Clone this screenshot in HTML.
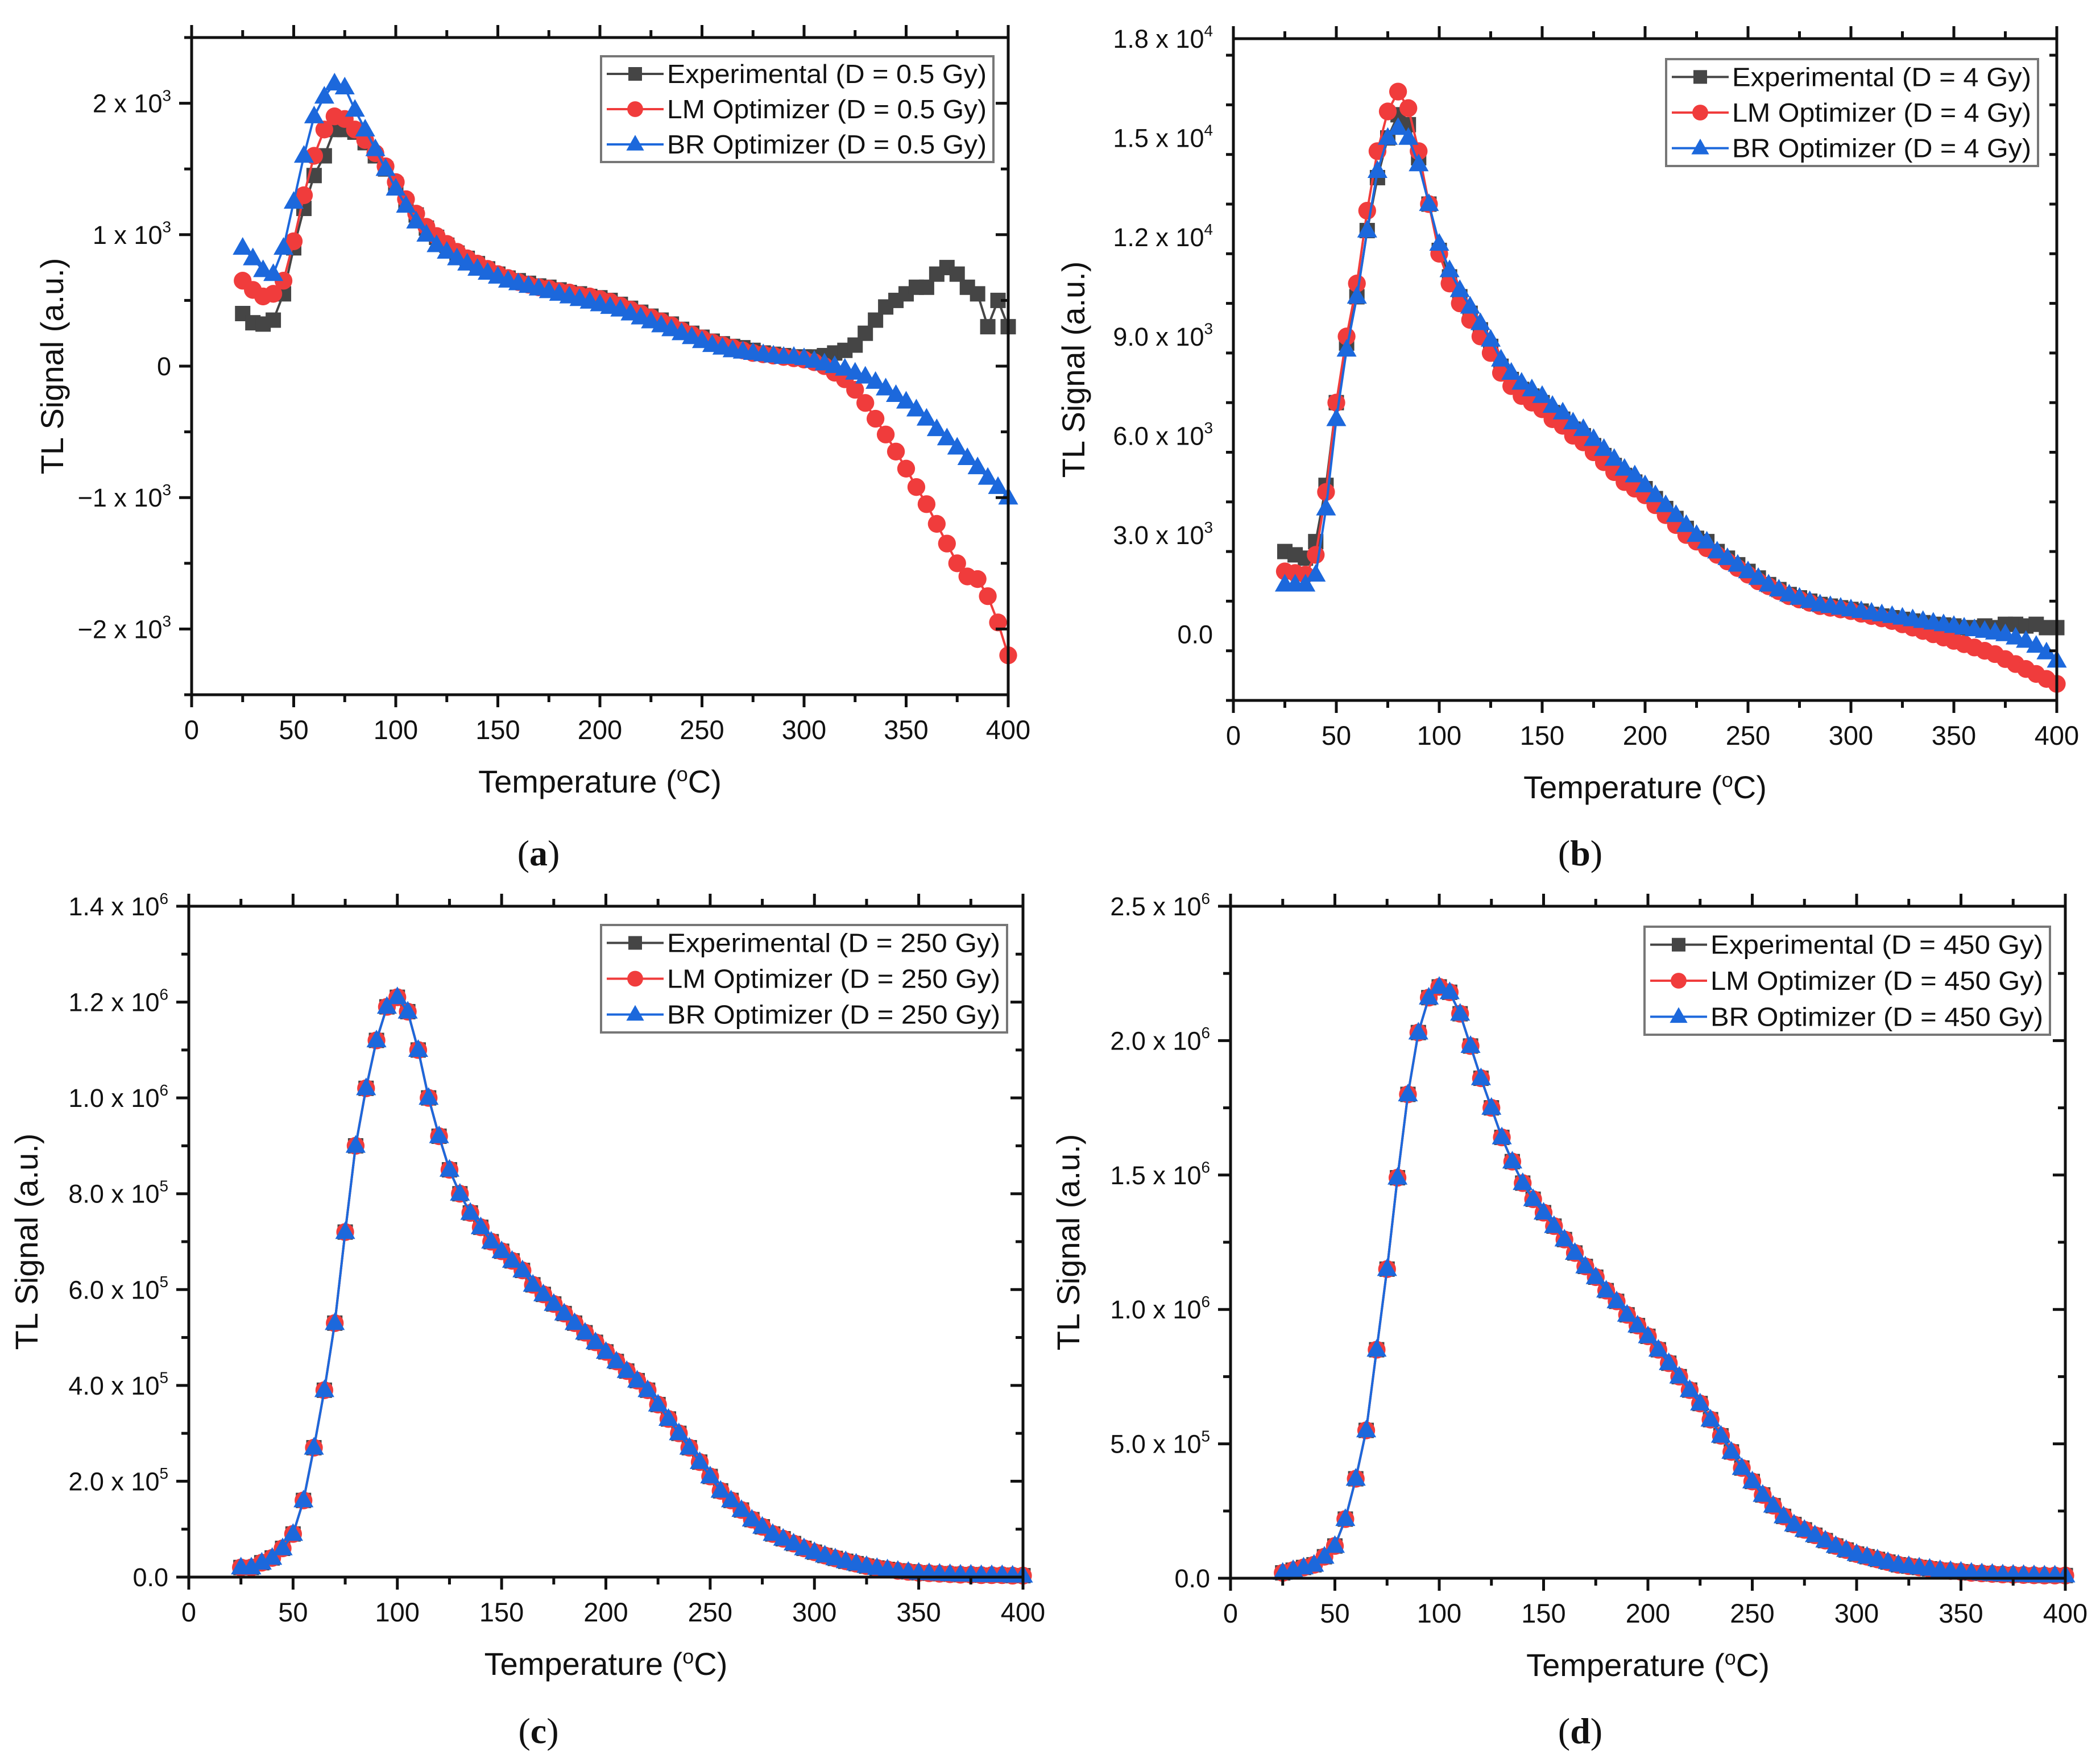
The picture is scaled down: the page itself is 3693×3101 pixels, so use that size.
<!DOCTYPE html>
<html><head><meta charset="utf-8"><style>
body{margin:0;background:#fff}
svg{display:block;font-family:"Liberation Sans",sans-serif}
</style></head><body>
<svg id="fig" width="3693" height="3101" viewBox="0 0 3693 3101" xmlns="http://www.w3.org/2000/svg"></svg>
<script>
const temps=[25,30,35,40,45,50,55,60,65,70,75,80,85,90,95,100,105,110,115,120,125,130,135,140,145,150,155,160,165,170,175,180,185,190,195,200,205,210,215,220,225,230,235,240,245,250,255,260,265,270,275,280,285,290,295,300,305,310,315,320,325,330,335,340,345,350,355,360,365,370,375,380,385,390,395,400];
const xTicks=[0,50,100,150,200,250,300,350,400];
// Panel a (x1e3)
const expA=[0.4,0.33,0.32,0.35,0.55,0.9,1.2,1.45,1.6,1.8,1.8,1.78,1.7,1.6,1.5,1.38,1.25,1.15,1.05,0.98,0.92,0.86,0.82,0.78,0.74,0.7,0.67,0.65,0.63,0.61,0.6,0.58,0.56,0.55,0.53,0.52,0.5,0.47,0.44,0.41,0.38,0.35,0.32,0.28,0.25,0.22,0.19,0.17,0.15,0.14,0.12,0.1,0.09,0.08,0.07,0.07,0.07,0.08,0.1,0.12,0.16,0.25,0.35,0.45,0.5,0.55,0.6,0.6,0.7,0.75,0.7,0.6,0.55,0.3,0.5,0.3];
const lmA=[0.65,0.58,0.53,0.55,0.65,0.95,1.3,1.6,1.8,1.9,1.88,1.8,1.72,1.62,1.52,1.4,1.27,1.16,1.06,0.99,0.93,0.87,0.82,0.78,0.74,0.7,0.67,0.64,0.62,0.6,0.59,0.57,0.56,0.54,0.53,0.51,0.49,0.46,0.43,0.4,0.37,0.34,0.31,0.27,0.24,0.21,0.18,0.16,0.14,0.12,0.1,0.09,0.08,0.07,0.06,0.05,0.03,0,-0.05,-0.1,-0.18,-0.28,-0.4,-0.52,-0.65,-0.78,-0.92,-1.05,-1.2,-1.35,-1.5,-1.6,-1.62,-1.75,-1.95,-2.2];
const brA=[0.9,0.82,0.73,0.7,0.9,1.25,1.6,1.9,2.05,2.15,2.12,1.95,1.8,1.65,1.5,1.35,1.22,1.1,1.0,0.92,0.87,0.82,0.78,0.74,0.71,0.68,0.65,0.63,0.61,0.59,0.57,0.55,0.53,0.51,0.49,0.47,0.45,0.43,0.4,0.37,0.34,0.31,0.28,0.25,0.22,0.19,0.16,0.14,0.12,0.11,0.1,0.09,0.08,0.07,0.07,0.06,0.04,0.02,0,-0.02,-0.05,-0.08,-0.12,-0.17,-0.22,-0.27,-0.33,-0.4,-0.48,-0.55,-0.62,-0.7,-0.77,-0.85,-0.92,-1.0];
const yTicksA=[-2,-1,0,1,2];
const yLabelsA=["\u22122 x 10|3","\u22121 x 10|3","0","1 x 10|3","2 x 10|3"];
// Panel b (x1e3)
const expB=[2.5,2.4,2.3,2.8,4.5,7.0,8.8,10.2,12.2,13.8,15.0,15.7,15.4,14.4,13.0,11.6,10.8,10.2,9.7,9.2,8.7,8.1,7.7,7.4,7.2,7.0,6.7,6.5,6.2,6.0,5.7,5.4,5.1,4.8,4.6,4.4,4.1,3.8,3.5,3.2,2.9,2.8,2.5,2.3,2.1,1.9,1.7,1.5,1.35,1.2,1.1,1.0,0.9,0.85,0.8,0.75,0.7,0.6,0.55,0.5,0.45,0.4,0.35,0.3,0.28,0.25,0.2,0.2,0.25,0.2,0.3,0.3,0.25,0.3,0.2,0.2];
const lmB=[1.9,1.85,1.8,2.4,4.3,7.0,9.0,10.6,12.8,14.6,15.8,16.4,15.9,14.6,13.0,11.5,10.6,10.0,9.5,9.0,8.5,7.9,7.5,7.2,7.0,6.8,6.5,6.3,6.0,5.8,5.5,5.2,4.9,4.6,4.4,4.2,3.9,3.6,3.3,3.0,2.8,2.6,2.4,2.2,2.0,1.8,1.6,1.45,1.3,1.15,1.05,0.95,0.85,0.8,0.75,0.7,0.62,0.55,0.48,0.4,0.3,0.2,0.1,0,-0.1,-0.2,-0.3,-0.4,-0.5,-0.6,-0.75,-0.9,-1.05,-1.2,-1.35,-1.5];
const brB=[1.5,1.5,1.5,1.8,3.8,6.5,8.6,10.2,12.2,14.0,15.0,15.3,15.0,14.2,13.0,11.8,11.0,10.4,9.9,9.4,8.9,8.3,7.9,7.6,7.4,7.2,6.9,6.7,6.4,6.2,5.9,5.6,5.3,5.0,4.8,4.5,4.2,3.9,3.6,3.3,3.0,2.8,2.5,2.3,2.1,1.9,1.7,1.5,1.35,1.2,1.1,1.0,0.9,0.85,0.8,0.75,0.7,0.65,0.6,0.55,0.5,0.45,0.4,0.35,0.3,0.25,0.2,0.15,0.1,0.05,0,-0.1,-0.2,-0.35,-0.55,-0.8];
const yTicksB=[0,3,6,9,12,15,18];
const yLabelsB=["0.0","3.0 x 10|3","6.0 x 10|3","9.0 x 10|3","1.2 x 10|4","1.5 x 10|4","1.8 x 10|4"];
// Panel c (x1e6)
const expC=[0.02,0.02,0.03,0.04,0.06,0.09,0.16,0.27,0.39,0.53,0.72,0.9,1.02,1.12,1.19,1.21,1.18,1.1,1.0,0.92,0.85,0.8,0.76,0.73,0.7,0.68,0.66,0.64,0.61,0.59,0.57,0.55,0.53,0.51,0.49,0.47,0.45,0.43,0.41,0.39,0.36,0.33,0.3,0.27,0.24,0.21,0.18,0.16,0.14,0.12,0.105,0.09,0.08,0.07,0.06,0.052,0.045,0.039,0.033,0.028,0.023,0.019,0.016,0.013,0.011,0.009,0.008,0.007,0.006,0.005,0.005,0.004,0.004,0.004,0.003,0.003];
const lmC=[0.02,0.02,0.03,0.04,0.06,0.09,0.16,0.27,0.39,0.53,0.72,0.9,1.02,1.12,1.19,1.21,1.18,1.1,1.0,0.92,0.85,0.8,0.76,0.73,0.7,0.68,0.66,0.64,0.61,0.59,0.57,0.55,0.53,0.51,0.49,0.47,0.45,0.43,0.41,0.39,0.36,0.33,0.3,0.27,0.24,0.21,0.18,0.16,0.14,0.12,0.105,0.09,0.08,0.07,0.06,0.052,0.045,0.039,0.033,0.028,0.023,0.019,0.016,0.013,0.011,0.009,0.008,0.007,0.006,0.005,0.005,0.004,0.004,0.004,0.003,0.003];
const brC=[0.02,0.02,0.03,0.04,0.06,0.09,0.16,0.27,0.39,0.53,0.72,0.9,1.02,1.12,1.19,1.21,1.18,1.1,1.0,0.92,0.85,0.8,0.76,0.73,0.7,0.68,0.66,0.64,0.61,0.59,0.57,0.55,0.53,0.51,0.49,0.47,0.45,0.43,0.41,0.39,0.36,0.33,0.3,0.27,0.24,0.21,0.18,0.16,0.14,0.12,0.105,0.09,0.08,0.07,0.06,0.052,0.045,0.039,0.033,0.028,0.023,0.019,0.016,0.013,0.011,0.009,0.008,0.007,0.006,0.005,0.005,0.004,0.004,0.004,0.003,0.003];
const yTicksC=[0,0.2,0.4,0.6,0.8,1.0,1.2,1.4];
const yLabelsC=["0.0","2.0 x 10|5","4.0 x 10|5","6.0 x 10|5","8.0 x 10|5","1.0 x 10|6","1.2 x 10|6","1.4 x 10|6"];
// Panel d (x1e6)
const expD=[0.02,0.03,0.04,0.05,0.08,0.12,0.22,0.37,0.55,0.85,1.15,1.49,1.8,2.03,2.16,2.2,2.18,2.1,1.98,1.86,1.75,1.64,1.55,1.47,1.41,1.36,1.31,1.26,1.21,1.16,1.12,1.07,1.03,0.98,0.94,0.9,0.85,0.8,0.75,0.7,0.65,0.59,0.53,0.47,0.41,0.36,0.31,0.27,0.23,0.2,0.18,0.16,0.14,0.12,0.105,0.09,0.08,0.07,0.06,0.05,0.045,0.04,0.035,0.03,0.027,0.024,0.02,0.018,0.016,0.014,0.013,0.012,0.011,0.01,0.01,0.01];
const lmD=[0.02,0.03,0.04,0.05,0.08,0.12,0.22,0.37,0.55,0.85,1.15,1.49,1.8,2.03,2.16,2.2,2.18,2.1,1.98,1.86,1.75,1.64,1.55,1.47,1.41,1.36,1.31,1.26,1.21,1.16,1.12,1.07,1.03,0.98,0.94,0.9,0.85,0.8,0.75,0.7,0.65,0.59,0.53,0.47,0.41,0.36,0.31,0.27,0.23,0.2,0.18,0.16,0.14,0.12,0.105,0.09,0.08,0.07,0.06,0.05,0.045,0.04,0.035,0.03,0.027,0.024,0.02,0.018,0.016,0.014,0.013,0.012,0.011,0.01,0.01,0.01];
const brD=[0.02,0.03,0.04,0.05,0.08,0.12,0.22,0.37,0.55,0.85,1.15,1.49,1.8,2.03,2.16,2.2,2.18,2.1,1.98,1.86,1.75,1.64,1.55,1.47,1.41,1.36,1.31,1.26,1.21,1.16,1.12,1.07,1.03,0.98,0.94,0.9,0.85,0.8,0.75,0.7,0.65,0.59,0.53,0.47,0.41,0.36,0.31,0.27,0.23,0.2,0.18,0.16,0.14,0.12,0.105,0.09,0.08,0.07,0.06,0.05,0.045,0.04,0.035,0.03,0.027,0.024,0.02,0.018,0.016,0.014,0.013,0.012,0.011,0.01,0.01,0.01];
const yTicksD=[0,0.5,1.0,1.5,2.0,2.5];
const yLabelsD=["0.0","5.0 x 10|5","1.0 x 10|6","1.5 x 10|6","2.0 x 10|6","2.5 x 10|6"];

const NS="http://www.w3.org/2000/svg";
const svg=document.getElementById('fig');
function mk(tag,attrs,parent){const e=document.createElementNS(NS,tag);for(const k in attrs)e.setAttribute(k,attrs[k]);(parent||svg).appendChild(e);return e;}

const panels=[
 {id:'a',L:337,R:1773,T:66,B:1222,ymin:-2.5,ymax:2.5,minor:0.5,yt:yTicksA,yl:yLabelsA,ser:[expA,lmA,brA],dose:'0.5 Gy',leg:[1057,99,1747,285],lab:[947,1522]},
 {id:'b',L:2169,R:3617,T:68,B:1232,ymin:-2,ymax:18,minor:1.5,yt:yTicksB,yl:yLabelsB,ser:[expB,lmB,brB],dose:'4 Gy',leg:[2930,104,3584,292],lab:[2779,1522]},
 {id:'c',L:332,R:1799,T:1594,B:2774,ymin:0,ymax:1.4,minor:0.1,yt:yTicksC,yl:yLabelsC,ser:[expC,lmC,brC],dose:'250 Gy',leg:[1057,1627,1771,1816],lab:[947,3066]},
 {id:'d',L:2164,R:3632,T:1594,B:2776,ymin:0,ymax:2.5,minor:0.25,yt:yTicksD,yl:yLabelsD,ser:[expD,lmD,brD],dose:'450 Gy',leg:[2892,1630,3605,1820],lab:[2779,3066]}
];
const cols=['#454545','#f03c3c','#1c68dc'];
const names=['Experimental','LM Optimizer','BR Optimizer'];
const keys=['experimental','lm-optimizer','br-optimizer'];

function marker(g,type,x,y,s,col){
  let m;
  if(type===0)m=mk('rect',{x:x-s/2,y:y-s/2,width:s,height:s,fill:col},g);
  else if(type===1)m=mk('circle',{cx:x,cy:y,r:s*0.58,fill:col},g);
  else m=mk('polygon',{points:`${x},${y-s*0.7} ${x-s*0.65},${y+s*0.45} ${x+s*0.65},${y+s*0.45}`,fill:col},g);
  return m;
}
function label(g,str,x,y,anchor,fs){
  const parts=str.split('|');
  const t=mk('text',{x:x,y:y,'text-anchor':anchor,'font-size':fs,fill:'#111'},g);
  t.appendChild(document.createTextNode(parts[0]));
  if(parts[1]){const sp=mk('tspan',{dy:-fs*0.45,'font-size':fs*0.62},t);sp.textContent=parts[1];}
  return t;
}

panels.forEach(p=>{
  const g=mk('g',{});
  
  
  const X=v=>p.L+(v-0)/(400)*(p.R-p.L);
  const Y=v=>p.B-(v-p.ymin)/(p.ymax-p.ymin)*(p.B-p.T);
  p.ser.forEach((arr,si)=>{
    const sg=mk('g',{},g);
    
    
    const pts=arr.map((v,i)=>X(temps[i])+','+Y(v)).join(' ');
    const ln=mk('polyline',{points:pts,fill:'none',stroke:cols[si],'stroke-width':4},sg);
    
    
    arr.forEach((v,i)=>{
      const m=marker(sg,si,X(temps[i]),Y(v),27,cols[si]);
      
      
    });
  });
  const fr=mk('rect',{x:p.L,y:p.T,width:p.R-p.L,height:p.B-p.T,fill:'none',stroke:'#111','stroke-width':5},g);
  
  
  for(let v=0;v<=400;v+=25){
    const maj=v%50===0,len=maj?22:13,x=X(v);
    mk('line',{x1:x,y1:p.B,x2:x,y2:p.B+len,stroke:'#111','stroke-width':5},g);
    mk('line',{x1:x,y1:p.T,x2:x,y2:p.T-len,stroke:'#111','stroke-width':5},g);
  }
  xTicks.forEach(v=>{
    const t=label(g,String(v),X(v),p.B+78,'middle',47);
    
    
  });
  const nMin=Math.round((p.ymax-p.ymin)/p.minor);
  for(let k=0;k<=nMin;k++){
    const v=p.ymin+k*p.minor,y=Y(v);
    const maj=p.yt.some(t=>Math.abs(t-v)<1e-6),len=maj?22:13;
    mk('line',{x1:p.L,y1:y,x2:p.L-len,y2:y,stroke:'#111','stroke-width':5},g);
    mk('line',{x1:p.R,y1:y,x2:p.R-len,y2:y,stroke:'#111','stroke-width':5},g);
  }
  p.yt.forEach((v,i)=>{
    const t=label(g,p.yl[i],p.L-36,Y(v)+16,'end',45);
    
    
  });
  const xt=mk('text',{x:(p.L+p.R)/2,y:p.B+172,'text-anchor':'middle','font-size':56,fill:'#111'},g);
  xt.innerHTML='Temperature (<tspan dy="-20" font-size="36">o</tspan><tspan dy="20">C)</tspan>';
  
  
  const yx=p.L-(p.id==='a'?226:p.id==='b'?262:266),yy=(p.T+p.B)/2;
  const yt=mk('text',{x:yx,y:yy,'text-anchor':'middle','font-size':56,fill:'#111',transform:`rotate(-90 ${yx} ${yy})`},g);
  yt.textContent='TL Signal (a.u.)';
  
  
  const [lx1,ly1,lx2,ly2]=p.leg;
  const lg=mk('g',{},g);
  
  
  mk('rect',{x:lx1,y:ly1,width:lx2-lx1,height:ly2-ly1,fill:'#fff',stroke:'#777','stroke-width':4},lg);
  const rh=(ly2-ly1)/3;
  names.forEach((n,i)=>{
    const cy=ly1+rh*(i+0.5);
    const e=mk('g',{},lg);
    
    
    mk('line',{x1:lx1+10,y1:cy,x2:lx1+110,y2:cy,stroke:cols[i],'stroke-width':4},e);
    marker(e,i,lx1+60,cy,24,cols[i]);
    const t=mk('text',{x:lx1+116,y:cy+16,'font-size':46,fill:'#111',textLength:(lx2-lx1)-128,lengthAdjust:'spacingAndGlyphs'},e);
    t.textContent=n+' (D = '+p.dose+')';
  });
  const pl=mk('text',{x:p.lab[0],y:p.lab[1],'text-anchor':'middle','font-size':64,fill:'#111','font-family':'Liberation Serif, serif'},g);
  pl.innerHTML='(<tspan font-weight="bold">'+p.id+'</tspan>)';
  
  
});
</script>
</body></html>
